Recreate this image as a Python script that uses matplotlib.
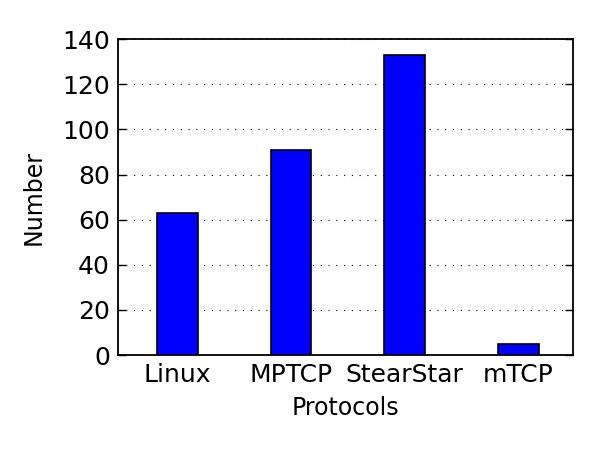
import numpy as np
import matplotlib
matplotlib.use("Agg")
import matplotlib.pyplot as plt

protocols = ["Linux", "MPTCP", "StearStar", "mTCP"]
counts = [63, 91, 133, 5]

fig = plt.figure(figsize=(6, 4.5), dpi=100)
ax = fig.add_axes([0.197, 0.211, 0.758, 0.702])

x = np.arange(len(protocols))
ax.bar(x, counts, width=0.36, color="#0000ff", edgecolor="black", linewidth=1.2, zorder=3)

ax.set_xlim(-0.52, 3.48)
ax.set_ylim(0, 140)
ax.set_yticks(range(0, 141, 20))
ax.set_xticks(x)
ax.set_xticklabels(protocols)
ax.tick_params(axis="x", length=0, labelsize=18, pad=6)
ax.tick_params(axis="y", direction="in", right=True, length=6, width=1, labelsize=18, pad=6)
ax.yaxis.grid(True, linestyle=(0, (1, 6)), color="black", linewidth=0.8)
ax.set_axisbelow(True)
for s in ax.spines.values():
    s.set_linewidth(1.3)

ax.set_xlabel("Protocols", fontsize=17, labelpad=6)
ax.set_ylabel("Number", fontsize=17, labelpad=12)

fig.savefig("out.png", dpi=100)
